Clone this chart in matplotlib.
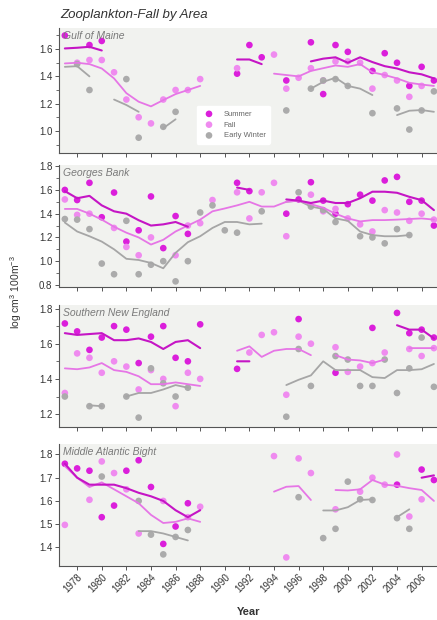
import numpy as np
import matplotlib
matplotlib.use("Agg")
import matplotlib.pyplot as plt

plt.rcParams["font.family"] = ["Liberation Sans", "DejaVu Sans"]
plt.rcParams["mathtext.default"] = "regular"

YEARS = list(range(1977, 2008))

# ---- Gulf of Maine ---------------------------------------------------------
GOM_SUMMER = {1977: 1.70, 1979: 1.63, 1980: 1.66, 1991: 1.42, 1992: 1.63, 1993: 1.54,
              1995: 1.37, 1997: 1.65, 1998: 1.27, 1999: 1.63, 2000: 1.58, 2002: 1.44,
              2003: 1.57, 2004: 1.50, 2005: 1.33, 2006: 1.47, 2007: 1.37}
GOM_FALL = {1978: 1.50, 1979: 1.52, 1980: 1.52, 1981: 1.43, 1982: 1.23, 1983: 1.10,
            1984: 1.055, 1985: 1.23, 1986: 1.30, 1987: 1.30, 1988: 1.38, 1991: 1.46,
            1994: 1.56, 1995: 1.31, 1996: 1.39, 1997: 1.46, 1998: 1.37, 1999: 1.51,
            2000: 1.51, 2001: 1.50, 2002: 1.31, 2003: 1.41, 2004: 1.37, 2005: 1.25,
            2006: 1.33}
GOM_WINTER = {1978: 1.49, 1979: 1.30, 1982: 1.38, 1983: 0.95, 1985: 1.03, 1986: 1.14,
              1995: 1.15, 1997: 1.31, 1998: 1.37, 1999: 1.38, 2000: 1.33, 2002: 1.13,
              2004: 1.165, 2005: 1.01, 2006: 1.15, 2007: 1.29}
GOM_SUMMER_FIT = {1977: 1.605, 1978: 1.61, 1979: 1.617, 1980: 1.59,
                  1991: 1.524, 1992: 1.524, 1993: 1.49,
                  1997: 1.51, 1998: 1.53, 1999: 1.54, 2000: 1.50, 2001: 1.54, 2002: 1.505,
                  2003: 1.475, 2004: 1.458, 2005: 1.43, 2006: 1.415, 2007: 1.385}
GOM_FALL_FIT = {1977: 1.495, 1978: 1.50, 1979: 1.49, 1980: 1.458, 1981: 1.385, 1982: 1.277,
                1983: 1.214, 1984: 1.18, 1985: 1.226, 1986: 1.27, 1987: 1.30, 1988: 1.33,
                1994: 1.42, 1995: 1.41, 1996: 1.40, 1997: 1.44, 1998: 1.46, 1999: 1.48,
                2000: 1.47, 2001: 1.49, 2002: 1.43, 2003: 1.41, 2004: 1.385, 2005: 1.353,
                2006: 1.34, 2007: 1.33}
GOM_WINTER_FIT = {1977: 1.47, 1978: 1.475, 1979: 1.40, 1981: 1.23, 1982: 1.19, 1983: 1.14,
                  1985: 1.02, 1986: 1.085, 1997: 1.31, 1998: 1.36, 1999: 1.39, 2000: 1.33,
                  2001: 1.31, 2002: 1.263, 2004: 1.116, 2005: 1.148, 2006: 1.153, 2007: 1.14}

# ---- Georges Bank ----------------------------------------------------------
GB_SUMMER = {1977: 1.60, 1978: 1.515, 1979: 1.66, 1980: 1.37, 1981: 1.578, 1982: 1.165,
             1983: 1.26, 1984: 1.545, 1985: 1.11, 1986: 1.38, 1987: 1.23, 1991: 1.66,
             1992: 1.59, 1995: 1.40, 1996: 1.52, 1997: 1.665, 1998: 1.51, 1999: 1.40,
             2000: 1.48, 2001: 1.56, 2002: 1.51, 2003: 1.68, 2004: 1.71, 2005: 1.50,
             2006: 1.51, 2007: 1.30}
GB_FALL = {1977: 1.52, 1978: 1.39, 1979: 1.40, 1981: 1.28, 1982: 1.12, 1983: 1.05,
           1984: 1.20, 1986: 1.05, 1987: 1.30, 1988: 1.32, 1989: 1.515, 1991: 1.58,
           1992: 1.36, 1993: 1.58, 1994: 1.66, 1995: 1.21, 1997: 1.56, 1998: 1.42,
           1999: 1.44, 2000: 1.36, 2001: 1.31, 2002: 1.25, 2003: 1.43, 2004: 1.41,
           2005: 1.34, 2006: 1.40, 2007: 1.35}
GB_WINTER = {1977: 1.355, 1978: 1.35, 1979: 1.27, 1980: 0.98, 1981: 0.89, 1982: 1.34,
             1983: 0.89, 1984: 0.97, 1985: 1.00, 1986: 0.83, 1987: 1.00, 1988: 1.41,
             1989: 1.47, 1990: 1.26, 1991: 1.24, 1993: 1.42, 1996: 1.58, 1997: 1.46,
             1998: 1.43, 1999: 1.33, 2001: 1.21, 2002: 1.20, 2003: 1.15, 2004: 1.27,
             2005: 1.22}
GB_SUMMER_FIT = {1977: 1.59, 1978: 1.53, 1979: 1.55, 1980: 1.47, 1981: 1.42, 1982: 1.40,
                 1983: 1.345, 1984: 1.30, 1985: 1.31, 1986: 1.33, 1987: 1.29,
                 1991: 1.62, 1992: 1.60,
                 1995: 1.52, 1996: 1.51, 1997: 1.49, 1998: 1.51, 1999: 1.49, 2000: 1.49,
                 2001: 1.53, 2002: 1.585, 2003: 1.585, 2004: 1.576, 2005: 1.542,
                 2006: 1.514, 2007: 1.43}
GB_FALL_FIT = {1977: 1.44, 1978: 1.44, 1979: 1.40, 1980: 1.35, 1981: 1.29, 1982: 1.24,
               1983: 1.20, 1984: 1.14, 1985: 1.18, 1986: 1.25, 1987: 1.30, 1988: 1.35,
               1989: 1.42, 1990: 1.444, 1991: 1.47, 1992: 1.50, 1993: 1.46, 1994: 1.46,
               1995: 1.50, 1996: 1.51, 1997: 1.48, 1998: 1.45, 1999: 1.40, 2000: 1.36,
               2001: 1.335, 2002: 1.346, 2003: 1.346, 2004: 1.35, 2005: 1.355,
               2006: 1.36, 2007: 1.35}
GB_WINTER_FIT = {1977: 1.325, 1978: 1.25, 1979: 1.21, 1980: 1.165, 1981: 1.10, 1982: 1.02,
                 1983: 1.01, 1984: 0.985, 1985: 0.94, 1986: 1.07, 1987: 1.16, 1988: 1.21,
                 1989: 1.28, 1990: 1.33, 1991: 1.33, 1992: 1.31, 1993: 1.316,
                 1995: 1.50, 1996: 1.51, 1997: 1.46, 1998: 1.44, 1999: 1.36, 2000: 1.34,
                 2001: 1.25, 2002: 1.22, 2003: 1.21, 2004: 1.21, 2005: 1.22}

# ---- Southern New England --------------------------------------------------
SNE_SUMMER = {1977: 1.715, 1978: 1.67, 1979: 1.565, 1980: 1.635, 1981: 1.70, 1982: 1.68,
              1983: 1.49, 1984: 1.64, 1985: 1.70, 1986: 1.52, 1987: 1.50, 1988: 1.71,
              1991: 1.457, 1996: 1.74, 1999: 1.435, 2002: 1.69, 2004: 1.775, 2005: 1.66,
              2006: 1.68, 2007: 1.635}
SNE_FALL = {1977: 1.32, 1978: 1.545, 1979: 1.52, 1980: 1.435, 1981: 1.50, 1982: 1.47,
            1983: 1.34, 1984: 1.45, 1985: 1.40, 1986: 1.245, 1987: 1.435, 1988: 1.40,
            1992: 1.55, 1993: 1.65, 1994: 1.665, 1995: 1.31, 1996: 1.64, 1997: 1.60,
            1999: 1.58, 2000: 1.44, 2001: 1.47, 2002: 1.49, 2003: 1.55, 2005: 1.57,
            2006: 1.53, 2007: 1.575}
SNE_WINTER = {1977: 1.30, 1979: 1.245, 1980: 1.245, 1982: 1.30, 1983: 1.18, 1984: 1.46,
              1985: 1.375, 1986: 1.30, 1987: 1.35, 1995: 1.185, 1996: 1.57, 1997: 1.36,
              1999: 1.53, 2000: 1.51, 2001: 1.36, 2002: 1.36, 2003: 1.51, 2004: 1.32,
              2005: 1.46, 2006: 1.635, 2007: 1.355}
SNE_SUMMER_FIT = {1977: 1.66, 1978: 1.65, 1979: 1.655, 1980: 1.66, 1981: 1.62, 1982: 1.62,
                  1983: 1.63, 1984: 1.61, 1985: 1.57, 1986: 1.61, 1987: 1.62, 1988: 1.575,
                  1991: 1.50, 1992: 1.50,
                  2004: 1.705, 2005: 1.68, 2006: 1.68, 2007: 1.63}
SNE_FALL_FIT = {1977: 1.46, 1978: 1.455, 1979: 1.465, 1980: 1.49, 1981: 1.45, 1982: 1.44,
                1983: 1.415, 1984: 1.37, 1985: 1.37, 1986: 1.38, 1987: 1.37, 1988: 1.36,
                1991: 1.56, 1992: 1.585, 1993: 1.525, 1994: 1.56, 1995: 1.57, 1996: 1.57,
                1997: 1.535, 1999: 1.535, 2000: 1.51, 2001: 1.505, 2002: 1.49, 2003: 1.51,
                2005: 1.575, 2006: 1.575, 2007: 1.575}
SNE_WINTER_FIT = {1979: 1.25, 1980: 1.245,
                  1982: 1.30, 1983: 1.32, 1984: 1.32, 1985: 1.34, 1986: 1.365, 1987: 1.35,
                  1995: 1.365, 1996: 1.395, 1997: 1.42, 1998: 1.50, 1999: 1.45, 2000: 1.45,
                  2001: 1.45, 2002: 1.41, 2003: 1.405, 2004: 1.45, 2005: 1.45,
                  2006: 1.455, 2007: 1.485}

# ---- Middle Atlantic Bight -------------------------------------------------
MAB_SUMMER = {1977: 1.76, 1978: 1.74, 1979: 1.73, 1980: 1.53, 1981: 1.58, 1982: 1.73,
              1983: 1.775, 1984: 1.66, 1985: 1.415, 1986: 1.49, 1987: 1.59, 2004: 1.67,
              2006: 1.735, 2007: 1.69}
MAB_FALL = {1977: 1.497, 1979: 1.605, 1980: 1.77, 1981: 1.72, 1982: 1.65, 1983: 1.46,
            1985: 1.60, 1987: 1.53, 1988: 1.575, 1994: 1.793, 1995: 1.357, 1996: 1.783,
            1997: 1.72, 1999: 1.564, 2001: 1.64, 2002: 1.70, 2003: 1.67, 2004: 1.80,
            2005: 1.533, 2006: 1.607}
MAB_WINTER = {1980: 1.705, 1983: 1.60, 1984: 1.455, 1985: 1.37, 1986: 1.445, 1987: 1.475,
              1996: 1.616, 1998: 1.44, 1999: 1.48, 2000: 1.683, 2001: 1.607, 2002: 1.604,
              2004: 1.526, 2005: 1.48}
MAB_SUMMER_FIT = {1977: 1.76, 1978: 1.70, 1979: 1.67, 1980: 1.67, 1981: 1.67, 1982: 1.655,
                  1983: 1.635, 1984: 1.62, 1985: 1.60, 1986: 1.56, 1987: 1.53, 1988: 1.56,
                  2006: 1.70, 2007: 1.71}
MAB_FALL_FIT = {1977: 1.75, 1978: 1.70, 1979: 1.66, 1980: 1.68, 1981: 1.65, 1982: 1.62,
                1983: 1.59, 1984: 1.54, 1985: 1.505, 1986: 1.51, 1987: 1.525, 1988: 1.51,
                1994: 1.64, 1995: 1.661, 1996: 1.664, 1997: 1.604,
                1999: 1.647, 2000: 1.645, 2001: 1.65, 2002: 1.69, 2003: 1.67, 2004: 1.665,
                2005: 1.655, 2006: 1.647, 2007: 1.60}
MAB_WINTER_FIT = {1983: 1.47, 1984: 1.47, 1985: 1.46, 1986: 1.445, 1987: 1.43,
                  1998: 1.559, 1999: 1.559, 2000: 1.573, 2001: 1.604, 2002: 1.607,
                  2004: 1.53, 2005: 1.564}

AREAS = ["Gulf of Maine", "Georges Bank", "Southern New England", "Middle Atlantic Bight"]
SEASONS = ["Summer", "Fall", "Early Winter"]
XTICKS = list(range(1978, 2007, 2))

# ---- layout (pixel boxes in a 437 x 620 figure) ---------------------------
W, H = 437, 620
LEFT = 58.7
BOXES = [(28, 152.7), (165, 287.3), (305, 427.3), (444, 566)]
YLIMS = [(0.84, 1.755), (0.78, 1.81), (1.125, 1.82), (1.32, 1.845)]
YTICKS = [[1.0, 1.2, 1.4, 1.6], [0.8, 1.0, 1.2, 1.4, 1.6, 1.8],
          [1.2, 1.4, 1.6, 1.8], [1.4, 1.5, 1.6, 1.7, 1.8]]
MINOR = [0.1, 0.1, 0.1, None]

PT_COL = {"Summer": "#db1fdb", "Fall": "#ef8bef", "Early Winter": "#ababab"}
LN_COL = {"Summer": "#c515c5", "Fall": "#e676e6", "Early Winter": "#a6a6a6"}
LN_W = {"Summer": 1.5, "Fall": 1.3, "Early Winter": 1.3}
BG = "#f1f2ef"
INK = "#333333"

points = [[GOM_SUMMER, GOM_FALL, GOM_WINTER], [GB_SUMMER, GB_FALL, GB_WINTER],
          [SNE_SUMMER, SNE_FALL, SNE_WINTER], [MAB_SUMMER, MAB_FALL, MAB_WINTER]]
fits = [[GOM_SUMMER_FIT, GOM_FALL_FIT, GOM_WINTER_FIT],
        [GB_SUMMER_FIT, GB_FALL_FIT, GB_WINTER_FIT],
        [SNE_SUMMER_FIT, SNE_FALL_FIT, SNE_WINTER_FIT],
        [MAB_SUMMER_FIT, MAB_FALL_FIT, MAB_WINTER_FIT]]


def on_years(d):
    return np.array([d.get(y, np.nan) for y in YEARS], dtype=float)


fig = plt.figure(figsize=(W / 100, H / 100), dpi=100)
yrs = np.array(YEARS)

for i, area in enumerate(AREAS):
    top, bot = BOXES[i]
    ax = fig.add_axes([LEFT / W, 1 - bot / H, 1 - LEFT / W, (bot - top) / H])
    ax.set_facecolor(BG)
    for s, season in enumerate(SEASONS):
        d = points[i][s]
        ax.scatter(list(d.keys()), list(d.values()), s=23, color=PT_COL[season],
                   edgecolors="none", zorder=2, label=season)
    for s in (2, 1, 0):
        season = SEASONS[s]
        ax.plot(yrs, on_years(fits[i][s]), color=LN_COL[season], lw=LN_W[season],
                zorder=3, solid_capstyle="round")

    ax.set_xticks(XTICKS)
    ax.set_yticks(YTICKS[i])
    ax.set_yticklabels([f"{t:.1f}" for t in YTICKS[i]])
    if MINOR[i]:
        lo, hi = YLIMS[i]
        minor = np.arange(0.7, 1.95, MINOR[i])
        ax.set_yticks(minor[(minor > lo) & (minor < hi)], minor=True)
    # limits go last: setting ticks may widen the view
    ax.set_xlim(1976.5, 2007.25)
    ax.set_ylim(*YLIMS[i])

    for side in ("top", "right"):
        ax.spines[side].set_visible(False)
    for side in ("left", "bottom"):
        ax.spines[side].set_color("#555555")
        ax.spines[side].set_linewidth(0.8)
    ax.tick_params(direction="out", length=3, width=0.7, color="#555555",
                   labelsize=7, labelcolor=INK, pad=1.5)
    ax.tick_params(which="minor", direction="out", length=2, width=0.6, color="#555555")
    if i < 3:
        ax.tick_params(axis="x", labelbottom=False)
    else:
        for lab in ax.get_xticklabels():
            lab.set_rotation(45)
            lab.set_ha("right")
            lab.set_va("top")
            lab.set_rotation_mode("anchor")
    ax.text(0.012, 0.975, area, transform=ax.transAxes, ha="left", va="top",
            fontsize=7.5, style="italic", color="#7a7a7a", zorder=4)

    if i == 0:
        leg = ax.legend(loc="upper left", bbox_to_anchor=(0.365, 0.375), fontsize=5.5,
                        frameon=True, facecolor="white", edgecolor="white",
                        framealpha=1, handletextpad=0.9, labelspacing=0.45,
                        borderpad=0.6, borderaxespad=0, markerscale=1.0,
                        scatterpoints=1)
        for t in leg.get_texts():
            t.set_color("#666666")

fig.text(60 / W, 1 - 15 / H, "Zooplankton-Fall by Area", ha="left", va="center",
         fontsize=9.5, style="italic", color=INK)
fig.text(16 / W, 1 - 292 / H, "log cm$^3$ 100m$^{-3}$", rotation=90,
         ha="center", va="center", fontsize=7.5, color=INK)
fig.text(249 / W, 1 - 612 / H, "Year", ha="center", va="center", fontsize=8,
         weight="bold", color=INK)

fig.savefig("out.png", dpi=100, facecolor="white")
